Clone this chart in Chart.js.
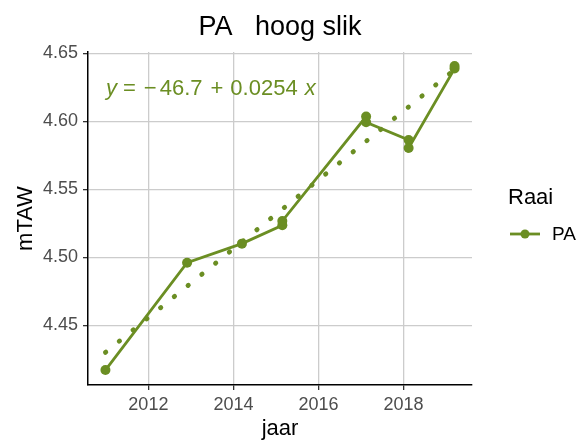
<!DOCTYPE html>
<html>
<head>
<meta charset="utf-8">
<script src="https://cdn.jsdelivr.net/npm/chart.js@4"></script>
<style>
  html, body { margin: 0; padding: 0; background: #fff; }
  #wrap { width: 586px; height: 443px; }
</style>
</head>
<body>
<div id="wrap"><canvas id="chart" width="586" height="443"></canvas></div>
<script>
// data
const jaar = [2010.99, 2012.91, 2014.2, 2015.15, 2015.15, 2017.12, 2017.12, 2018.12, 2018.12, 2019.2, 2019.2];
const mTAW = [4.417, 4.496, 4.510, 4.5235, 4.5267, 4.6035, 4.5993, 4.5863, 4.5804, 4.6388, 4.6407];
const trendJaar = [2010.99, 2019.2];
const trendWaarde = [4.430, 4.638];
const xTicks = [2012, 2014, 2016, 2018];
const yTicks = [4.45, 4.50, 4.55, 4.60, 4.65];
const raai = 'PA';
const titel = 'PA   hoog slik';

const groen = '#6B8E23';
const font = "'Liberation Sans', Arial, sans-serif";

// title, legend + regression equation, drawn after the chart
const extras = {
    id: 'extras',
    afterDraw(chart) {
        const ctx = chart.ctx;
        const area = chart.chartArea;
        ctx.save();
        // title centred on the panel
        ctx.fillStyle = '#000';
        ctx.font = '27px ' + font;
        ctx.textAlign = 'center';
        ctx.textBaseline = 'alphabetic';
        ctx.fillText(titel, (area.left + area.right) / 2, 35);

        // equation: tokens with a gap after each one
        ctx.fillStyle = groen;
        ctx.textAlign = 'left';
        const parts = [
            ['y', true, 6], ['=', false, 8], ['\u2212', false, 3],
            ['46.7', false, 8], ['+', false, 7], ['0.0254', false, 7], ['x', true, 0]
        ];
        let x = 106;
        parts.forEach(([t, it, gap]) => {
            ctx.font = (it ? 'italic ' : '') + '22px ' + font;
            ctx.fillText(t, x, 95);
            x += ctx.measureText(t).width + gap;
        });

        // legend
        ctx.fillStyle = '#000';
        ctx.font = '22px ' + font;
        ctx.textBaseline = 'middle';
        ctx.fillText('Raai', 508, 198);
        const ky = 234;
        ctx.strokeStyle = groen;
        ctx.lineWidth = 2.8;
        ctx.beginPath();
        ctx.moveTo(510, ky);
        ctx.lineTo(540, ky);
        ctx.stroke();
        ctx.fillStyle = groen;
        ctx.beginPath();
        ctx.arc(525, ky, 4.5, 0, Math.PI * 2);
        ctx.fill();
        ctx.fillStyle = '#000';
        ctx.font = '19px ' + font;
        ctx.fillText(raai, 552, ky + 1);
        ctx.restore();
    }
};

new Chart(document.getElementById('chart'), {
    type: 'line',
    data: {
        datasets: [{
            label: raai,
            data: jaar.map((j, i) => ({ x: j, y: mTAW[i] })),
            borderColor: groen,
            backgroundColor: groen,
            borderWidth: 2.8,
            pointRadius: 5,
            pointHoverRadius: 5,
            pointBorderWidth: 0,
            tension: 0
        }, {
            label: 'trend',
            data: trendJaar.map((j, i) => ({ x: j, y: trendWaarde[i] })),
            borderColor: groen,
            borderWidth: 4.8,
            borderDash: [0.5, 17.2],
            borderCapStyle: 'round',
            pointRadius: 0,
            pointHoverRadius: 0
        }]
    },
    options: {
        responsive: false,
        animation: false,
        events: [],
        layout: { padding: { left: 0, right: 114, top: 52, bottom: 0 } },
        plugins: {
            legend: { display: false },
            tooltip: { enabled: false },
            title: { display: false }
        },
        scales: {
            x: {
                type: 'linear',
                min: 2010.58,
                max: 2019.61,
                afterBuildTicks: s => { s.ticks = xTicks.map(v => ({ value: v })); },
                afterFit: s => { s.height = 58; },
                ticks: {
                    color: '#4d4d4d',
                    font: { family: font, size: 18 },
                    padding: 4,
                    maxRotation: 0,
                    callback: v => String(v)
                },
                grid: { color: '#cccccc', lineWidth: 1.3, tickColor: '#333', tickLength: 5 },
                border: { display: true, color: '#000', width: 1.5 },
                title: {
                    display: true,
                    text: 'jaar',
                    color: '#000',
                    font: { family: font, size: 22 },
                    padding: { top: 0, bottom: 1 }
                }
            },
            y: {
                min: 4.406,
                max: 4.651,
                afterBuildTicks: s => { s.ticks = yTicks.map(v => ({ value: v })); },
                afterFit: s => { s.width = 88; },
                ticks: {
                    color: '#4d4d4d',
                    font: { family: font, size: 18 },
                    padding: 5,
                    callback: v => v.toFixed(2)
                },
                grid: { color: '#cccccc', lineWidth: 1.3, tickColor: '#333', tickLength: 5 },
                border: { display: true, color: '#000', width: 1.5 },
                title: {
                    display: true,
                    text: 'mTAW',
                    color: '#000',
                    font: { family: font, size: 22 },
                    padding: { top: 13, bottom: 0 }
                }
            }
        }
    },
    plugins: [extras]
});
</script>
</body>
</html>
